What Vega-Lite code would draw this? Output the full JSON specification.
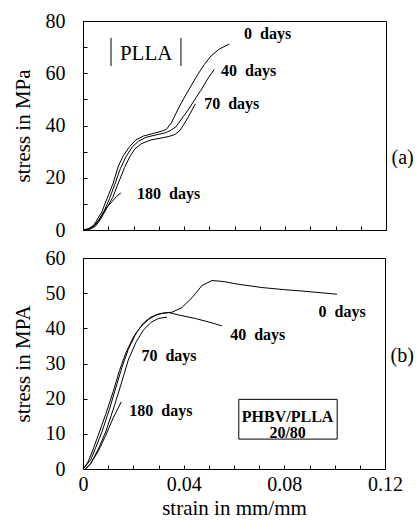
{
  "$schema": "https://vega.github.io/schema/vega-lite/v6.json",
  "background": "white",
  "padding": {"left": 11, "top": 10, "right": 0, "bottom": 0},
  "bounds": "flush",
  "spacing": 28,
  "config": {
    "view": {"stroke": "black", "strokeWidth": 1},
    "font": "Liberation Serif",
    "axis": {
      "labelFont": "Liberation Serif", "labelFontSize": 20, "labelColor": "black",
      "titleFont": "Liberation Serif", "titleFontSize": 21, "titleFontWeight": "normal", "titleColor": "black",
      "domainColor": "black", "tickColor": "black", "grid": false, "ticks": true, "tickSize": -4, "labelOverlap": false
    },
    "text": {"font": "Liberation Serif", "color": "black"}
  },
  "datasets": {
    "a": [
      {"days": "0", "strain": 0, "stress": 0}, {"days": "0", "strain": 0.002, "stress": 0.4}, {"days": "0", "strain": 0.004, "stress": 1.6}, {"days": "0", "strain": 0.005, "stress": 3}, {"days": "0", "strain": 0.0075, "stress": 7}, {"days": "0", "strain": 0.0095, "stress": 12}, {"days": "0", "strain": 0.012, "stress": 18}, {"days": "0", "strain": 0.014, "stress": 24.5}, {"days": "0", "strain": 0.016, "stress": 28.5}, {"days": "0", "strain": 0.0185, "stress": 32}, {"days": "0", "strain": 0.021, "stress": 34.5}, {"days": "0", "strain": 0.024, "stress": 36}, {"days": "0", "strain": 0.028, "stress": 37}, {"days": "0", "strain": 0.031, "stress": 37.8}, {"days": "0", "strain": 0.033, "stress": 38.5}, {"days": "0", "strain": 0.035, "stress": 41}, {"days": "0", "strain": 0.0375, "stress": 46}, {"days": "0", "strain": 0.04, "stress": 50.5}, {"days": "0", "strain": 0.043, "stress": 55.5}, {"days": "0", "strain": 0.0455, "stress": 59.6}, {"days": "0", "strain": 0.048, "stress": 63.3}, {"days": "0", "strain": 0.0507, "stress": 66.6}, {"days": "0", "strain": 0.054, "stress": 69.3}, {"days": "0", "strain": 0.058, "stress": 71.2},
      {"days": "40", "strain": 0, "stress": 0}, {"days": "40", "strain": 0.0025, "stress": 0.4}, {"days": "40", "strain": 0.0045, "stress": 1.6}, {"days": "40", "strain": 0.006, "stress": 3.2}, {"days": "40", "strain": 0.0085, "stress": 7.5}, {"days": "40", "strain": 0.0105, "stress": 12}, {"days": "40", "strain": 0.0128, "stress": 18}, {"days": "40", "strain": 0.0148, "stress": 23.5}, {"days": "40", "strain": 0.017, "stress": 28}, {"days": "40", "strain": 0.0195, "stress": 31.8}, {"days": "40", "strain": 0.022, "stress": 34}, {"days": "40", "strain": 0.025, "stress": 35.5}, {"days": "40", "strain": 0.029, "stress": 36.4}, {"days": "40", "strain": 0.0325, "stress": 37.2}, {"days": "40", "strain": 0.0345, "stress": 38}, {"days": "40", "strain": 0.0368, "stress": 39.5}, {"days": "40", "strain": 0.0415, "stress": 45.8}, {"days": "40", "strain": 0.0467, "stress": 53.5}, {"days": "40", "strain": 0.0495, "stress": 58}, {"days": "40", "strain": 0.052, "stress": 61.5},
      {"days": "70", "strain": 0, "stress": 0}, {"days": "70", "strain": 0.003, "stress": 0.4}, {"days": "70", "strain": 0.005, "stress": 1.5}, {"days": "70", "strain": 0.007, "stress": 4.2}, {"days": "70", "strain": 0.0095, "stress": 8.5}, {"days": "70", "strain": 0.0118, "stress": 12.5}, {"days": "70", "strain": 0.014, "stress": 18}, {"days": "70", "strain": 0.0165, "stress": 24}, {"days": "70", "strain": 0.0185, "stress": 28}, {"days": "70", "strain": 0.0205, "stress": 31}, {"days": "70", "strain": 0.023, "stress": 33}, {"days": "70", "strain": 0.027, "stress": 34.5}, {"days": "70", "strain": 0.031, "stress": 35.2}, {"days": "70", "strain": 0.034, "stress": 35.8}, {"days": "70", "strain": 0.0365, "stress": 36.6}, {"days": "70", "strain": 0.0385, "stress": 38.2}, {"days": "70", "strain": 0.0405, "stress": 41.3}, {"days": "70", "strain": 0.0425, "stress": 44.7}, {"days": "70", "strain": 0.0445, "stress": 48.3},
      {"days": "180", "strain": 0, "stress": 0}, {"days": "180", "strain": 0.0025, "stress": 0.5}, {"days": "180", "strain": 0.0045, "stress": 1.8}, {"days": "180", "strain": 0.0065, "stress": 4.2}, {"days": "180", "strain": 0.009, "stress": 8.2}, {"days": "180", "strain": 0.0115, "stress": 10.8}, {"days": "180", "strain": 0.0132, "stress": 12.8}, {"days": "180", "strain": 0.015, "stress": 14.2}
    ],
    "b": [
      {"days": "0", "strain": 0, "stress": 0}, {"days": "0", "strain": 0.002, "stress": 2}, {"days": "0", "strain": 0.004, "stress": 5.5}, {"days": "0", "strain": 0.006, "stress": 9.5}, {"days": "0", "strain": 0.009, "stress": 15.5}, {"days": "0", "strain": 0.012, "stress": 22}, {"days": "0", "strain": 0.0145, "stress": 28}, {"days": "0", "strain": 0.017, "stress": 33}, {"days": "0", "strain": 0.02, "stress": 37.5}, {"days": "0", "strain": 0.023, "stress": 40.5}, {"days": "0", "strain": 0.026, "stress": 42.5}, {"days": "0", "strain": 0.029, "stress": 43.8}, {"days": "0", "strain": 0.032, "stress": 44.3}, {"days": "0", "strain": 0.0354, "stress": 44.6}, {"days": "0", "strain": 0.0393, "stress": 45.9}, {"days": "0", "strain": 0.0433, "stress": 48.7}, {"days": "0", "strain": 0.0473, "stress": 52.2}, {"days": "0", "strain": 0.0513, "stress": 53.6}, {"days": "0", "strain": 0.056, "stress": 53.3}, {"days": "0", "strain": 0.0611, "stress": 52.6}, {"days": "0", "strain": 0.0711, "stress": 51.6}, {"days": "0", "strain": 0.08, "stress": 51}, {"days": "0", "strain": 0.087, "stress": 50.6}, {"days": "0", "strain": 0.095, "stress": 50.1}, {"days": "0", "strain": 0.1009, "stress": 49.7},
      {"days": "40", "strain": 0, "stress": 0}, {"days": "40", "strain": 0.003, "stress": 2.5}, {"days": "40", "strain": 0.005, "stress": 6}, {"days": "40", "strain": 0.0075, "stress": 10.5}, {"days": "40", "strain": 0.0105, "stress": 17}, {"days": "40", "strain": 0.013, "stress": 23}, {"days": "40", "strain": 0.0155, "stress": 29}, {"days": "40", "strain": 0.018, "stress": 34}, {"days": "40", "strain": 0.021, "stress": 38.5}, {"days": "40", "strain": 0.024, "stress": 41.5}, {"days": "40", "strain": 0.027, "stress": 43.2}, {"days": "40", "strain": 0.0305, "stress": 44.2}, {"days": "40", "strain": 0.034, "stress": 44.5}, {"days": "40", "strain": 0.038, "stress": 43.8}, {"days": "40", "strain": 0.0446, "stress": 42.8}, {"days": "40", "strain": 0.05, "stress": 41.8}, {"days": "40", "strain": 0.0552, "stress": 40.7},
      {"days": "70", "strain": 0.001, "stress": 0}, {"days": "70", "strain": 0.003, "stress": 1.5}, {"days": "70", "strain": 0.006, "stress": 5.5}, {"days": "70", "strain": 0.009, "stress": 10.5}, {"days": "70", "strain": 0.0125, "stress": 18}, {"days": "70", "strain": 0.0155, "stress": 25}, {"days": "70", "strain": 0.018, "stress": 31}, {"days": "70", "strain": 0.021, "stress": 36}, {"days": "70", "strain": 0.024, "stress": 39.5}, {"days": "70", "strain": 0.027, "stress": 41.7}, {"days": "70", "strain": 0.03, "stress": 42.8}, {"days": "70", "strain": 0.0334, "stress": 43.2},
      {"days": "180", "strain": 0.001, "stress": 0}, {"days": "180", "strain": 0.003, "stress": 1.5}, {"days": "180", "strain": 0.006, "stress": 5}, {"days": "180", "strain": 0.009, "stress": 9.5}, {"days": "180", "strain": 0.012, "stress": 14.5}, {"days": "180", "strain": 0.0152, "stress": 19.1}
    ],
    "alab": [
      {"text": "0\u00a0 days", "strain": 0.0638, "stress": 75.0},
      {"text": "40\u00a0 days", "strain": 0.0547, "stress": 60.9},
      {"text": "70\u00a0 days", "strain": 0.048, "stress": 48.1},
      {"text": "180\u00a0 days", "strain": 0.0214, "stress": 13.7}
    ],
    "blab": [
      {"text": "0\u00a0 days", "strain": 0.0936, "stress": 44.7},
      {"text": "40\u00a0 days", "strain": 0.0585, "stress": 38.0},
      {"text": "70\u00a0 days", "strain": 0.0232, "stress": 32.1},
      {"text": "180\u00a0 days", "strain": 0.0184, "stress": 16.5}
    ],
    "abars": [
      {"strain": 0.0111, "y1": 62.8, "y2": 73.6},
      {"strain": 0.0388, "y1": 62.8, "y2": 73.6}
    ],
    "aname": [{"text": "PLLA", "strain": 0.025, "stress": 67.5}],
    "apanel": [{"text": "(a)", "strain": 0.1222, "stress": 27.6}],
    "bpanel": [{"text": "(b)", "strain": 0.1222, "stress": 32.1}],
    "bbox": [{"x1": 0.0619, "x2": 0.101, "y1": 8.5, "y2": 19.8}],
    "bname": [
      {"text": "PHBV/PLLA", "strain": 0.0813, "stress": 14.9},
      {"text": "20/80", "strain": 0.0813, "stress": 10.3}
    ]
  },
  "vconcat": [
    {
      "width": 303,
      "height": 209,
      "encoding": {
        "x": {"type": "quantitative", "scale": {"domain": [0, 0.12], "nice": false},
          "axis": {"title": null, "labels": false, "tickSize": -4, "values": [0, 0.01, 0.02, 0.03, 0.04, 0.05, 0.06, 0.07, 0.08, 0.09, 0.1, 0.11, 0.12]}},
        "y": {"type": "quantitative", "scale": {"domain": [0, 80], "nice": false},
          "axis": {"title": "stress in MPa", "tickSize": -4, "values": [0, 10, 20, 30, 40, 50, 60, 70, 80], "labelExpr": "datum.value % 20 == 0 ? datum.label : ''", "labelPadding": 22, "titlePadding": 12, "labelOverlap": false}}
      },
      "layer": [
        {
          "data": {"name": "a"},
          "mark": {"type": "line", "color": "black", "strokeWidth": 1},
          "encoding": {
            "x": {"field": "strain", "type": "quantitative"},
            "y": {"field": "stress", "type": "quantitative"},
            "detail": {"field": "days"}
          }
        },
        {
          "data": {"name": "alab"},
          "mark": {"type": "text", "align": "left", "baseline": "middle", "fontSize": 16, "fontWeight": "bold"},
          "encoding": {
            "x": {"field": "strain", "type": "quantitative"},
            "y": {"field": "stress", "type": "quantitative"},
            "text": {"field": "text"}
          }
        },
        {
          "data": {"name": "abars"},
          "mark": {"type": "rule", "color": "black", "strokeWidth": 1},
          "encoding": {
            "x": {"field": "strain", "type": "quantitative"},
            "y": {"field": "y1", "type": "quantitative"},
            "y2": {"field": "y2"}
          }
        },
        {
          "data": {"name": "aname"},
          "mark": {"type": "text", "align": "center", "baseline": "middle", "fontSize": 21},
          "encoding": {
            "x": {"field": "strain", "type": "quantitative"},
            "y": {"field": "stress", "type": "quantitative"},
            "text": {"field": "text"}
          }
        },
        {
          "data": {"name": "apanel"},
          "mark": {"type": "text", "align": "left", "baseline": "middle", "fontSize": 20},
          "encoding": {
            "x": {"field": "strain", "type": "quantitative"},
            "y": {"field": "stress", "type": "quantitative"},
            "text": {"field": "text"}
          }
        }
      ]
    },
    {
      "width": 302,
      "height": 211,
      "encoding": {
        "x": {"type": "quantitative", "scale": {"domain": [0, 0.12], "nice": false},
          "axis": {"title": "strain in mm/mm", "tickSize": -4, "values": [0, 0.01, 0.02, 0.03, 0.04, 0.05, 0.06, 0.07, 0.08, 0.09, 0.1, 0.11, 0.12],
            "labelExpr": "round(datum.value*100) % 4 == 0 ? (datum.value == 0 ? '0' : format(datum.value, '.2f')) : ''",
            "labelPadding": 9, "titlePadding": 3, "labelFlush": false, "labelOverlap": false}},
        "y": {"type": "quantitative", "scale": {"domain": [0, 60], "nice": false},
          "axis": {"title": "stress in MPA", "tickSize": -4, "values": [0, 10, 20, 30, 40, 50, 60], "labelExpr": "datum.label", "labelPadding": 22, "titlePadding": 12, "labelOverlap": false}}
      },
      "layer": [
        {
          "data": {"name": "bbox"},
          "mark": {"type": "rect", "fill": "white", "stroke": "black", "strokeWidth": 1},
          "encoding": {
            "x": {"field": "x1", "type": "quantitative"},
            "x2": {"field": "x2"},
            "y": {"field": "y1", "type": "quantitative"},
            "y2": {"field": "y2"}
          }
        },
        {
          "data": {"name": "b"},
          "mark": {"type": "line", "color": "black", "strokeWidth": 1},
          "encoding": {
            "x": {"field": "strain", "type": "quantitative"},
            "y": {"field": "stress", "type": "quantitative"},
            "detail": {"field": "days"}
          }
        },
        {
          "data": {"name": "blab"},
          "mark": {"type": "text", "align": "left", "baseline": "middle", "fontSize": 16, "fontWeight": "bold"},
          "encoding": {
            "x": {"field": "strain", "type": "quantitative"},
            "y": {"field": "stress", "type": "quantitative"},
            "text": {"field": "text"}
          }
        },
        {
          "data": {"name": "bname"},
          "mark": {"type": "text", "align": "center", "baseline": "middle", "fontSize": 16, "fontWeight": "bold"},
          "encoding": {
            "x": {"field": "strain", "type": "quantitative"},
            "y": {"field": "stress", "type": "quantitative"},
            "text": {"field": "text"}
          }
        },
        {
          "data": {"name": "bpanel"},
          "mark": {"type": "text", "align": "left", "baseline": "middle", "fontSize": 20},
          "encoding": {
            "x": {"field": "strain", "type": "quantitative"},
            "y": {"field": "stress", "type": "quantitative"},
            "text": {"field": "text"}
          }
        }
      ]
    }
  ]
}
